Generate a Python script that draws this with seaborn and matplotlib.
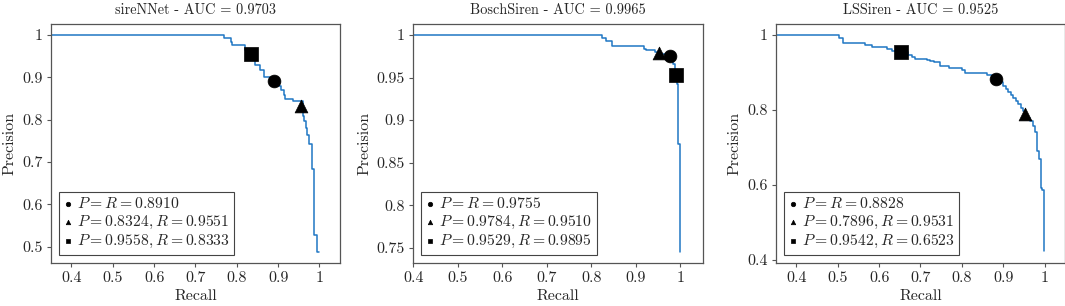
import matplotlib
matplotlib.use("Agg")
import matplotlib.pyplot as plt
import matplotlib.ticker as mticker
import seaborn as sns

# precision-recall step curves (steps-post vertices)
sirennet_recall = [0.350, 0.768, 0.785, 0.789, 0.821, 0.833, 0.839, 0.845, 0.855, 0.866,
                   0.880, 0.902, 0.906, 0.913, 0.916, 0.936, 0.959, 0.963, 0.967, 0.971,
                   0.975, 0.981, 0.987, 0.994, 0.999]
sirennet_prec = [1.000, 0.992, 0.984, 0.977, 0.965, 0.956, 0.945, 0.929, 0.918, 0.900,
                 0.890, 0.880, 0.871, 0.859, 0.849, 0.845, 0.808, 0.796, 0.780, 0.765,
                 0.743, 0.684, 0.529, 0.488, 0.488]

bosch_recall = [0.400, 0.824, 0.833, 0.846, 0.918, 0.923, 0.942, 0.955, 0.965, 0.978,
                0.984, 0.988, 0.990, 0.9925, 0.995, 1.000, 1.000]
bosch_prec = [1.000, 0.996, 0.993, 0.9875, 0.984, 0.982, 0.980, 0.978, 0.976, 0.972,
              0.966, 0.958, 0.948, 0.942, 0.8715, 0.745, 0.745]

lssiren_recall = [0.350, 0.5035, 0.512, 0.566, 0.582, 0.618, 0.631, 0.650, 0.669, 0.679,
                  0.687, 0.715, 0.724, 0.732, 0.748, 0.768, 0.800, 0.808, 0.861, 0.872,
                  0.884, 0.895, 0.900, 0.906, 0.912, 0.918, 0.924, 0.930, 0.936, 0.942,
                  0.948, 0.953, 0.955, 0.966, 0.972, 0.978, 0.981, 0.986, 0.992, 0.995,
                  0.998, 0.998]
lssiren_prec = [1.000, 0.993, 0.978, 0.972, 0.9665, 0.963, 0.958, 0.954, 0.945, 0.940,
                0.9365, 0.934, 0.931, 0.928, 0.916, 0.912, 0.907, 0.8985, 0.894, 0.888,
                0.880, 0.874, 0.864, 0.856, 0.848, 0.840, 0.832, 0.824, 0.816, 0.806,
                0.798, 0.790, 0.779, 0.771, 0.757, 0.740, 0.691, 0.669, 0.590, 0.585,
                0.422, 0.422]

titles = ["sireNNet - AUC = 0.9703", "BoschSiren - AUC = 0.9965", "LSSiren - AUC = 0.9525"]

# operating points: (precision, recall) for circle, triangle, square
points_p = [[0.8910, 0.8324, 0.9558], [0.9755, 0.9784, 0.9529], [0.8828, 0.7896, 0.9542]]
points_r = [[0.8910, 0.9551, 0.8333], [0.9755, 0.9510, 0.9895], [0.8828, 0.9531, 0.6523]]

xlims = [(0.35, 1.05), (0.40, 1.05), (0.35, 1.05)]
ylims = [(0.462, 1.0256), (0.7323, 1.0128), (0.391, 1.029)]
yticks = [[0.5, 0.6, 0.7, 0.8, 0.9, 1.0],
          [0.75, 0.8, 0.85, 0.9, 0.95, 1.0],
          [0.4, 0.6, 0.8, 1.0]]

sns.set_theme(style="white")
plt.rcParams["font.family"] = ["cmr10", "DejaVu Serif"]
plt.rcParams["mathtext.fontset"] = "cm"
plt.rcParams["axes.formatter.use_mathtext"] = True
plt.rcParams["font.size"] = 11

fig = plt.figure(figsize=(10.65, 3.06), dpi=100)
lefts = [0.0476, 0.388, 0.7284]
curves = [(sirennet_recall, sirennet_prec), (bosch_recall, bosch_prec),
          (lssiren_recall, lssiren_prec)]
markers = ["o", "^", "s"]
sizes = [85, 85, 100]
frame_col = "#555555"

for i in range(3):
    ax = fig.add_axes([lefts[i], 0.1405, 0.2718, 0.781])
    rec, prec = curves[i]
    sns.lineplot(x=rec, y=prec, ax=ax, color="#1f77c4", lw=1.1,
                 drawstyle="steps-post", estimator=None, sort=False)
    for k in range(3):
        p, r = points_p[i][k], points_r[i][k]
        if k == 0:
            lab = rf"$P = R = {p:.4f}$"
        else:
            lab = rf"$P = {p:.4f}, R = {r:.4f}$"
        sns.scatterplot(x=[r], y=[p], marker=markers[k], s=sizes[k], color="black",
                        edgecolor="black", linewidth=0.5, label=lab, ax=ax, zorder=5)
    ax.set_xlim(*xlims[i])
    ax.set_ylim(*ylims[i])
    ax.set_xticks([0.4, 0.5, 0.6, 0.7, 0.8, 0.9, 1.0])
    ax.set_yticks(yticks[i])
    fmt = mticker.FuncFormatter(lambda v, pos: f"{v:g}")
    ax.xaxis.set_major_formatter(fmt)
    ax.yaxis.set_major_formatter(fmt)
    ax.tick_params(axis="both", direction="out", length=3, width=0.8,
                   color=frame_col, labelsize=11.5, pad=3, left=True, bottom=True)
    for sp in ax.spines.values():
        sp.set_color(frame_col)
        sp.set_linewidth(0.9)
    ax.set_title(titles[i], fontsize=10.3, pad=7)
    ax.set_xlabel("Recall", fontsize=11.5, labelpad=3)
    ax.set_ylabel("Precision", fontsize=11.5, labelpad=4)
    leg = ax.legend(loc="lower left", fancybox=False, framealpha=1, edgecolor="#444444",
                    markerscale=0.35, handlelength=0.55, handletextpad=0.3,
                    labelspacing=0.15, borderpad=0.3, borderaxespad=0.5, fontsize=11.3)
    leg.get_frame().set_linewidth(0.8)

fig.savefig("out.png", dpi=100)
